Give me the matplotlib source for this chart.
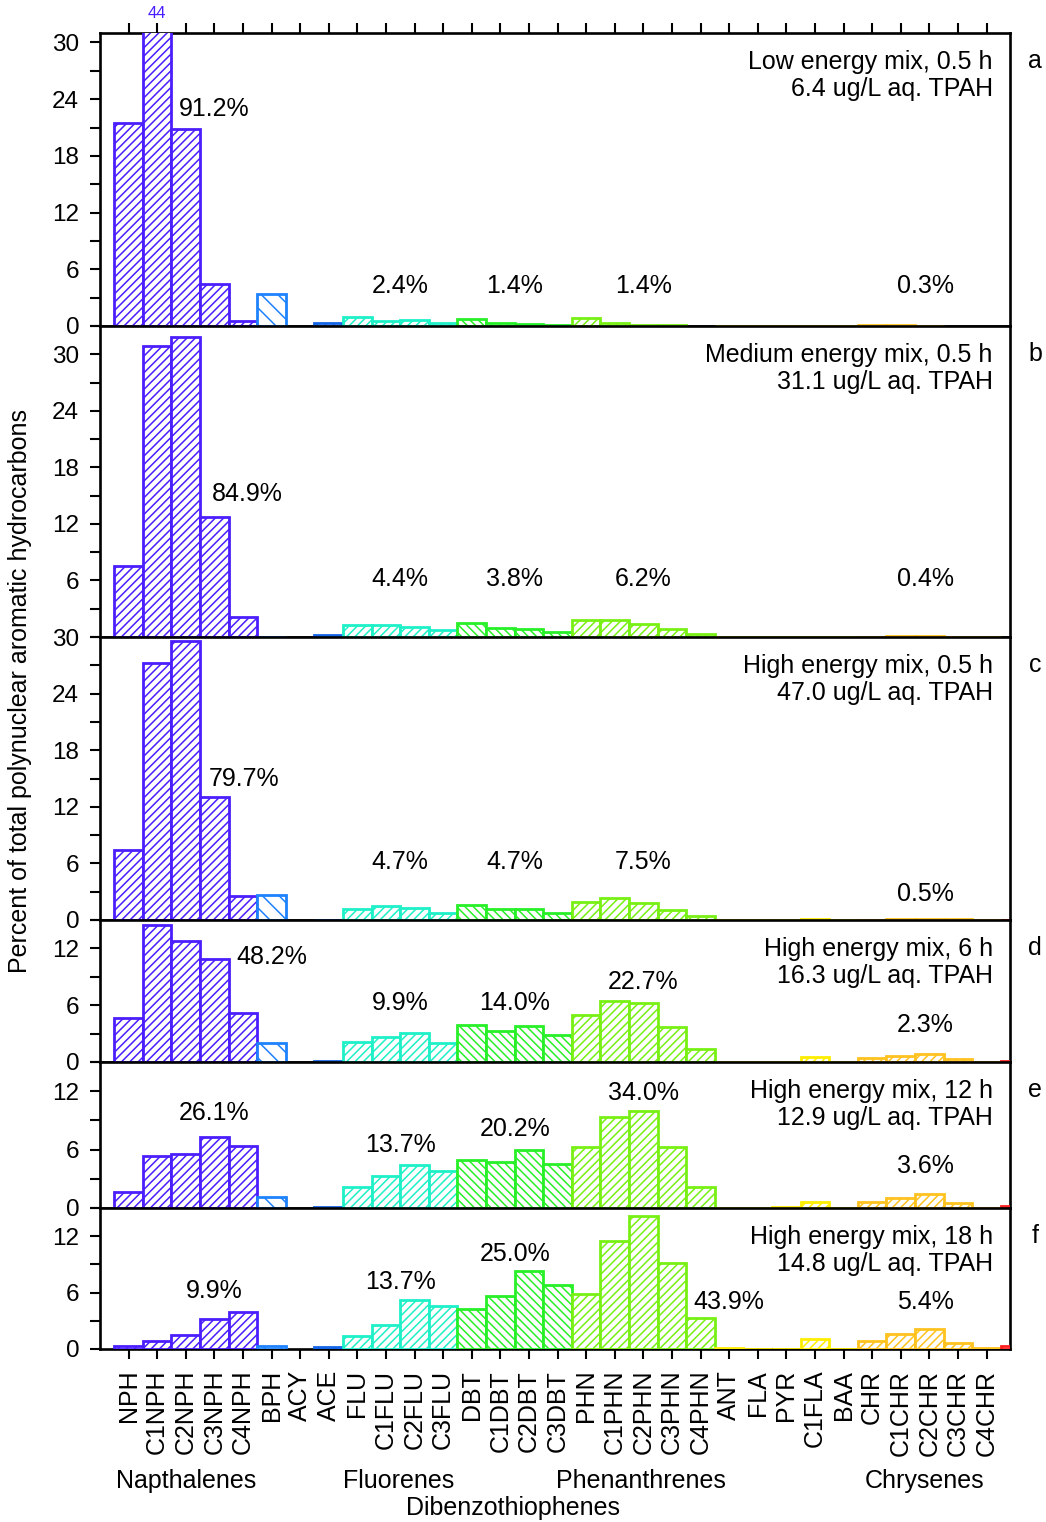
import numpy as np
import matplotlib.pyplot as plt
from matplotlib.ticker import MultipleLocator
from matplotlib.transforms import ScaledTranslation

plt.rcParams['font.family'] = ['Liberation Sans', 'DejaVu Sans']
plt.rcParams['hatch.linewidth'] = 1.1

# compound names (last one is an unlabelled red bar at the right edge)
compounds = ["NPH", "C1NPH", "C2NPH", "C3NPH", "C4NPH", "BPH", "ACY", "ACE",
             "FLU", "C1FLU", "C2FLU", "C3FLU", "DBT", "C1DBT", "C2DBT", "C3DBT",
             "PHN", "C1PHN", "C2PHN", "C3PHN", "C4PHN", "ANT", "FLA", "PYR",
             "C1FLA", "BAA", "CHR", "C1CHR", "C2CHR", "C3CHR", "C4CHR", ""]

# percent of TPAH, one list per panel
panel_a = [21.5, 44.0, 20.8, 4.45, 0.56, 3.4, 0.0, 0.3, 1.0, 0.5, 0.6, 0.3,
           0.7, 0.3, 0.25, 0.15, 0.8, 0.35, 0.15, 0.1, 0.0, 0.05, 0.05, 0.05,
           0.05, 0.05, 0.1, 0.15, 0.05, 0.0, 0.0, 0.0]
panel_b = [7.5, 30.9, 31.8, 12.7, 2.1, 0.02, 0.0, 0.2, 1.3, 1.3, 1.1, 0.7,
           1.5, 0.95, 0.85, 0.5, 1.8, 1.85, 1.35, 0.85, 0.35, 0.02, 0.02, 0.02,
           0.02, 0.02, 0.05, 0.1, 0.15, 0.05, 0.02, 0.0]
panel_c = [7.4, 27.2, 29.6, 13.0, 2.55, 2.7, 0.0, 0.05, 1.2, 1.45, 1.3, 0.75,
           1.6, 1.2, 1.15, 0.75, 1.9, 2.3, 1.8, 1.1, 0.4, 0.05, 0.05, 0.05,
           0.1, 0.05, 0.05, 0.1, 0.15, 0.15, 0.05, 0.05]
panel_d = [4.7, 14.5, 12.8, 10.9, 5.2, 2.0, 0.0, 0.1, 2.15, 2.65, 3.05, 2.05,
           3.95, 3.3, 3.85, 2.9, 4.95, 6.4, 6.2, 3.75, 1.4, 0.05, 0.05, 0.05,
           0.55, 0.05, 0.4, 0.65, 0.85, 0.35, 0.05, 0.15]
panel_e = [1.6, 5.3, 5.5, 7.3, 6.4, 1.17, 0.0, 0.1, 2.2, 3.3, 4.4, 3.8,
           4.9, 4.75, 6.0, 4.55, 6.3, 9.3, 9.95, 6.25, 2.2, 0.02, 0.05, 0.1,
           0.6, 0.05, 0.6, 1.0, 1.4, 0.55, 0.05, 0.2]
panel_f = [0.35, 0.9, 1.5, 3.2, 3.96, 0.3, 0.0, 0.2, 1.35, 2.55, 5.2, 4.6,
           4.3, 5.65, 8.25, 6.8, 5.8, 11.5, 14.15, 9.2, 3.25, 0.1, 0.05, 0.05,
           1.03, 0.05, 0.9, 1.6, 2.15, 0.65, 0.1, 0.3]

titles = ["Low energy mix, 0.5 h\n6.4 ug/L aq. TPAH",
          "Medium energy mix, 0.5 h\n31.1 ug/L aq. TPAH",
          "High energy mix, 0.5 h\n47.0 ug/L aq. TPAH",
          "High energy mix, 6 h\n16.3 ug/L aq. TPAH",
          "High energy mix, 12 h\n12.9 ug/L aq. TPAH",
          "High energy mix, 18 h\n14.8 ug/L aq. TPAH"]
letters = ["a", "b", "c", "d", "e", "f"]

# group totals shown in each panel
pct_a = ["91.2%", "2.4%", "1.4%", "1.4%", "0.3%"]
pct_b = ["84.9%", "4.4%", "3.8%", "6.2%", "0.4%"]
pct_c = ["79.7%", "4.7%", "4.7%", "7.5%", "0.5%"]
pct_d = ["48.2%", "9.9%", "14.0%", "22.7%", "2.3%"]
pct_e = ["26.1%", "13.7%", "20.2%", "34.0%", "3.6%"]
pct_f = ["9.9%", "13.7%", "25.0%", "43.9%", "5.4%"]

group_names = ["Napthalenes", "Fluorenes", "Phenanthrenes", "Chrysenes"]

# ---- styling / placement ----
c_nph, c_bph, c_ace = "#4b1eff", "#1e82ff", "#1464e6"
c_flu, c_dbt, c_phn = "#1ef0c8", "#28f028", "#78f014"
c_ylw, c_chr, c_red = "#ffee00", "#ffc21e", "#ff1e1e"
colors = [c_nph] * 5 + [c_bph] + [c_ace] * 2 + [c_flu] * 4 + [c_dbt] * 4 + \
         [c_phn] * 5 + [c_ylw] * 5 + [c_chr] * 5 + [c_red]
hatches = ["////"] * 5 + ["\\\\"] + ["////"] * 6 + ["\\\\\\\\"] * 4 + ["////"] * 16

panels = [panel_a, panel_b, panel_c, panel_d, panel_e, panel_f]
pcts = [pct_a, pct_b, pct_c, pct_d, pct_e, pct_f]
ylims = [31, 33, 30, 15, 15, 15]
heights = [293, 311, 283, 142, 146, 141]
pct_x = [[3.0, 9.5, 13.5, 18.0, 27.85], [4.15, 9.5, 13.5, 18.0, 27.85],
         [4.05, 9.5, 13.5, 18.0, 27.85], [5.0, 9.5, 13.5, 18.0, 27.85],
         [3.0, 9.5, 13.5, 18.0, 27.85], [3.0, 9.5, 13.5, 21.0, 27.85]]
pct_y = [[23.0, 4.25, 4.25, 4.25, 4.25], [15.2, 6.15, 6.15, 6.15, 6.15],
         [14.95, 6.15, 6.15, 6.15, 2.75], [11.1, 6.25, 6.25, 8.5, 3.9],
         [9.8, 6.5, 8.1, 11.8, 4.3], [6.15, 7.1, 10.1, 5.0, 5.0]]

FS = 18
W, H = 1046, 1522
fig = plt.figure(figsize=(W / 100, H / 100), dpi=100)
gs = fig.add_gridspec(6, 1, height_ratios=heights, hspace=0,
                      left=100 / W, right=1010 / W, top=1 - 33 / H, bottom=1 - 1349 / H)

x = np.arange(len(compounds))
for i, vals in enumerate(panels):
    ax = fig.add_subplot(gs[i])
    for j, v in enumerate(vals):
        if v <= 0:
            continue
        ax.bar(x[j], v, width=1.0, facecolor="white", edgecolor=colors[j],
               hatch=hatches[j], linewidth=2.0, zorder=3)
    ax.set_xlim(-1.0, 30.82)
    ax.set_ylim(0, ylims[i])
    ax.yaxis.set_major_locator(MultipleLocator(6))
    ax.yaxis.set_minor_locator(MultipleLocator(3))
    ax.tick_params(axis="y", which="both", direction="out", length=7, width=1.5,
                   labelsize=FS - 0.5, pad=8)
    for s in ax.spines.values():
        s.set_linewidth(1.9)
    ax.set_xticks(x[:-1])
    if i == 0:
        ax.tick_params(axis="x", which="both", top=True, bottom=False,
                       labeltop=False, labelbottom=False, length=7, width=1.5)
        ax.annotate("44", xy=(1, ylims[0]), xytext=(0, 14), textcoords="offset points",
                    ha="center", va="center", color=c_nph, fontsize=12,
                    annotation_clip=False)
    elif i == 5:
        ax.set_xticklabels(compounds[:-1], rotation=90, fontsize=FS)
        ax.tick_params(axis="x", which="both", direction="out", length=7, width=1.5, pad=8)
    else:
        ax.tick_params(axis="x", which="both", bottom=False, labelbottom=False)
    if i == 1:
        ax.set_yticks([6, 12, 18, 24, 30])
    shift = ScaledTranslation(0, -0.17, fig.dpi_scale_trans)
    ax.text(0.981, 1, titles[i], transform=ax.transAxes + shift, ha="right", va="top",
            fontsize=FS, linespacing=1.18)
    ax.annotate(letters[i], xy=(1, 1), xycoords="axes fraction", xytext=(25, -28),
                textcoords="offset pixels", ha="center", va="center", fontsize=FS,
                annotation_clip=False)
    for k, label in enumerate(pcts[i]):
        ax.text(pct_x[i][k], pct_y[i][k], label, ha="center", va="center", fontsize=FS)

fig.text(20 / W, 1 - 691 / H, "Percent of total polynuclear aromatic hydrocarbons",
         rotation=90, ha="center", va="center", fontsize=FS)
for name, px in zip(group_names, [186, 399, 641, 925]):
    fig.text(px / W, 1 - 1481 / H, name, ha="center", va="center", fontsize=FS)
fig.text(513 / W, 1 - 1508 / H, "Dibenzothiophenes", ha="center", va="center", fontsize=FS)

fig.savefig("out.png", dpi=100)
